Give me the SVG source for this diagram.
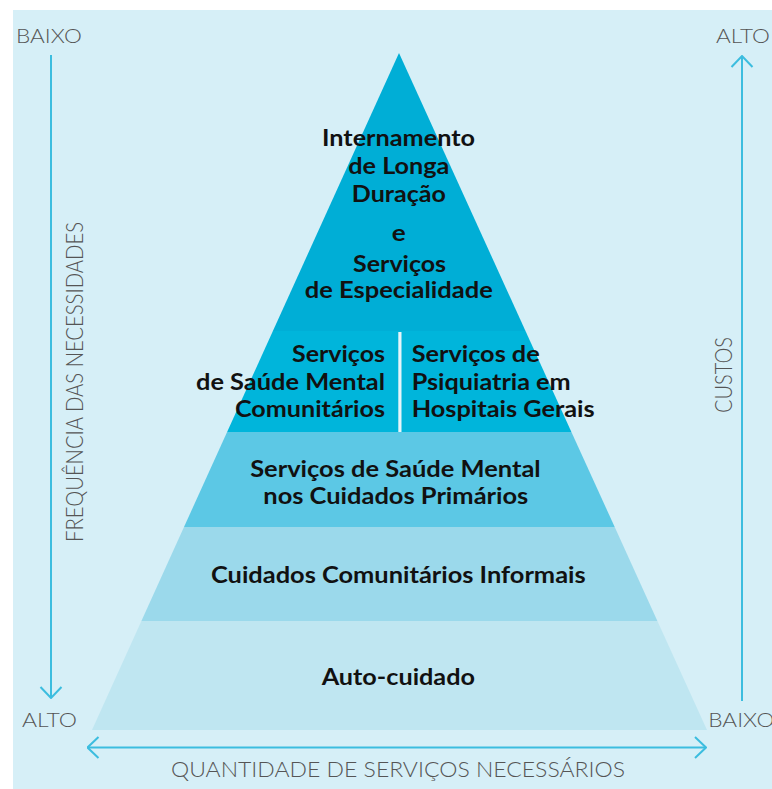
<svg xmlns="http://www.w3.org/2000/svg" width="772" height="789" viewBox="0 0 772 789">
<defs>
<style>
.bg{fill:#D6EFF7}
.t{font-family:Lato,"Open Sans","Liberation Sans",sans-serif;font-weight:700;font-size:23px;fill:#111}
.ax{font-family:Lato,"Open Sans","Liberation Sans",sans-serif;font-weight:300;font-size:20px;fill:#555}
.axl{stroke:#3CBDDF;stroke-width:2;fill:none}
</style>
<marker id="chev" viewBox="0 0 13 24" refX="12" refY="12" markerWidth="13" markerHeight="24" markerUnits="userSpaceOnUse" orient="auto-start-reverse">
<path d="M1,1.5 L12,12 L1,22.5" fill="none" stroke="#3CBDDF" stroke-width="2"/>
</marker>
</defs>
<rect class="bg" x="13" y="10" width="759" height="779"/>

<g id="band1">
<polygon points="399,53 525.5,331 272.9,331" fill="#00AED6"/>
<text class="t" text-anchor="middle" x="398.5" y="146" textLength="153" lengthAdjust="spacingAndGlyphs">Internamento</text>
<text class="t" text-anchor="middle" x="398.8" y="173.5" textLength="101" lengthAdjust="spacingAndGlyphs">de Longa</text>
<text class="t" text-anchor="middle" x="398.8" y="201.5" textLength="94" lengthAdjust="spacingAndGlyphs">Duração</text>
<text class="t" text-anchor="middle" x="398.8" y="240.5" textLength="14" lengthAdjust="spacingAndGlyphs">e</text>
<text class="t" text-anchor="middle" x="399.6" y="271.5" textLength="93" lengthAdjust="spacingAndGlyphs">Serviços</text>
<text class="t" text-anchor="middle" x="398.8" y="298" textLength="188" lengthAdjust="spacingAndGlyphs">de Especialidade</text>
</g>

<g id="band2">
<polygon points="272.9,331 525.5,331 571.4,432 227.1,432" fill="#00B5DB"/>
<rect x="398.3" y="332" width="3.2" height="100" fill="#E6F5FA"/>
<text class="t" text-anchor="end" x="385" y="361.7" textLength="93" lengthAdjust="spacingAndGlyphs">Serviços</text>
<text class="t" text-anchor="end" x="385" y="390" textLength="189" lengthAdjust="spacingAndGlyphs">de Saúde Mental</text>
<text class="t" text-anchor="end" x="385" y="416.7" textLength="150" lengthAdjust="spacingAndGlyphs">Comunitários</text>
<text class="t" x="411.7" y="361.7" textLength="128" lengthAdjust="spacingAndGlyphs">Serviços de</text>
<text class="t" x="411.7" y="390" textLength="159" lengthAdjust="spacingAndGlyphs">Psiquiatria em</text>
<text class="t" x="411.7" y="416.7" textLength="183" lengthAdjust="spacingAndGlyphs">Hospitais Gerais</text>
</g>

<g id="band3">
<polygon points="227.1,432 571.4,432 614.7,527 184,527" fill="#5CC8E5"/>
<text class="t" text-anchor="middle" x="395.4" y="476.7" textLength="290.5" lengthAdjust="spacingAndGlyphs">Serviços de Saúde Mental</text>
<text class="t" text-anchor="middle" x="395.8" y="504.3" textLength="265" lengthAdjust="spacingAndGlyphs">nos Cuidados Primários</text>
</g>

<g id="band4">
<polygon points="184,527 614.7,527 657.4,621 141.4,621" fill="#9BD9EB"/>
<text class="t" text-anchor="middle" x="398.3" y="583.3" textLength="374.7" lengthAdjust="spacingAndGlyphs">Cuidados Comunitários Informais</text>
</g>

<g id="band5">
<polygon points="141.4,621 657.4,621 707,730 92,730" fill="#BFE6F1"/>
<text class="t" text-anchor="middle" x="398.3" y="685" textLength="153.3" lengthAdjust="spacingAndGlyphs">Auto-cuidado</text>
</g>

<g id="connectors">
<line class="axl" x1="51" y1="55" x2="51" y2="698" marker-end="url(#chev)"/>
<line class="axl" x1="742" y1="701" x2="742" y2="56" marker-end="url(#chev)"/>
<line class="axl" x1="87.5" y1="747.5" x2="706" y2="747.5" marker-start="url(#chev)" marker-end="url(#chev)"/>
</g>

<g id="labels">
<text class="ax" x="16" y="43.3" textLength="66" lengthAdjust="spacingAndGlyphs">BAIXO</text>
<text class="ax" x="716" y="43.3" textLength="54" lengthAdjust="spacingAndGlyphs">ALTO</text>
<text class="ax" x="22" y="726.7" textLength="55" lengthAdjust="spacingAndGlyphs">ALTO</text>
<text class="ax" x="708.3" y="726.7" textLength="66" lengthAdjust="spacingAndGlyphs">BAIXO</text>
<text class="ax" x="171" y="776.7" textLength="454" lengthAdjust="spacingAndGlyphs" style="font-size:22px">QUANTIDADE DE SERVIÇOS NECESSÁRIOS</text>
<text class="ax" transform="translate(83,542) rotate(-90)" x="0" y="0" textLength="320" lengthAdjust="spacingAndGlyphs" style="font-size:24px">FREQUÊNCIA DAS NECESSIDADES</text>
<text class="ax" transform="translate(731.7,413) rotate(-90)" x="0" y="0" textLength="76" lengthAdjust="spacingAndGlyphs" style="font-size:24px">CUSTOS</text>
</g>
</svg>
